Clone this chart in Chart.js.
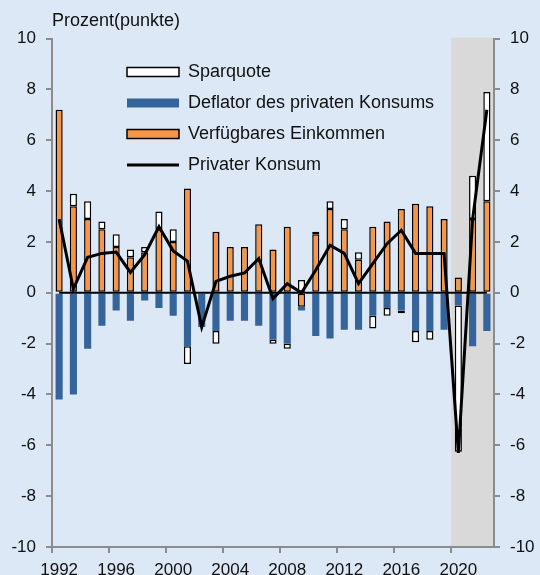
<!DOCTYPE html>
<html>
<head>
<meta charset="utf-8">
<script src="https://cdn.jsdelivr.net/npm/chart.js@4/dist/chart.umd.min.js"></script>
<style>
html,body{margin:0;padding:0;background:#dce8f6;}
#wrap{width:540px;height:575px;position:relative;}
</style>
</head>
<body>
<div id="wrap"><canvas id="c" width="540" height="575"></canvas></div>
<script>
const years = ['1992','1993','1994','1995','1996','1997','1998','1999','2000','2001','2002','2003','2004','2005','2006','2007','2008','2009','2010','2011','2012','2013','2014','2015','2016','2017','2018','2019','2020','2021','2022'];
const tickYears = ['1992','1996','2000','2004','2008','2012','2016','2020'];
const einkommen = [7.2,3.4,2.9,2.5,1.8,1.4,1.6,2.5,2.0,4.1,0,2.4,1.8,1.8,2.7,1.7,2.6,-0.55,2.3,3.3,2.5,1.3,2.6,2.8,3.3,3.5,3.4,2.9,0.6,2.9,3.6];
const deflator = [-4.2,-4.0,-2.2,-1.3,-0.7,-1.1,-0.3,-0.6,-0.9,-2.1,-1.35,-1.5,-1.1,-1.1,-1.3,-1.85,-2.0,-0.15,-1.7,-1.8,-1.45,-1.45,-0.9,-0.6,-0.7,-1.5,-1.5,-1.45,-0.5,-2.1,-1.5];
const sparquote = [0,0.5,0.7,0.3,0.5,0.3,0.2,0.7,0.5,-0.7,0,-0.5,0,0,0,-0.15,-0.2,0.5,0.1,0.3,0.4,0.3,-0.5,-0.3,-0.1,-0.45,-0.35,0,-5.75,1.7,4.3];
const konsum = [2.9,0.15,1.4,1.55,1.6,0.8,1.5,2.6,1.65,1.25,-1.35,0.45,0.65,0.78,1.35,-0.23,0.36,0.0,0.9,1.87,1.55,0.36,1.15,1.93,2.46,1.55,1.55,1.55,-6.3,2.9,7.2];
const zeroLine = years.map(() => 0);
const yTicksMin = -10, yTicksMax = 10, yStep = 2;
const shadeFrom = '2020';

const shadePlugin = {
  id: 'shade',
  beforeDraw(chart) {
    const {ctx, chartArea, scales} = chart;
    const x = scales.x;
    const i = years.indexOf(shadeFrom);
    const half = (x.getPixelForValue(1) - x.getPixelForValue(0)) / 2;
    const x0 = x.getPixelForValue(i) - half;
    ctx.save();
    ctx.fillStyle = '#d9d9d9';
    ctx.fillRect(x0, chartArea.top - 1, chartArea.right - x0, chartArea.bottom - chartArea.top + 1);
    ctx.restore();
  }
};
const legendShift = {
  id: 'legendShift',
  afterLayout(chart) {
    const lg = chart.legend, ca = chart.chartArea;
    if (lg) {
      lg.left = ca.left + 62;
      lg.top = ca.top + 11.5;
      lg.right = ca.right;
      lg.bottom = ca.bottom;
    }
  }
};

const FONT = "'Liberation Sans', Arial, sans-serif";
const AXIS = '#8c8c8c';
const baseGen = Chart.defaults.plugins.legend.labels.generateLabels;
const xTickColor = (ctx) => tickYears.includes(years[ctx.index]) ? AXIS : 'rgba(0,0,0,0)';

new Chart(document.getElementById('c'), {
  data: {
    labels: years,
    datasets: [
      {type:'line', label:'Privater Konsum', data: konsum, borderColor:'#000', backgroundColor:'#000', borderWidth:3, pointRadius:0, tension:0, stack:'konsum', pointStyle:'line'},
      {type:'line', label:'zero', data: zeroLine, borderColor:'#000', borderWidth:2, pointRadius:0, stack:'zero'},
      {type:'bar', label:'Verfügbares Einkommen', data: einkommen, backgroundColor:'#f79646', borderColor:'#000', borderWidth:1.5, borderSkipped:false},
      {type:'bar', label:'Deflator des privaten Konsums', data: deflator, backgroundColor:'#35649b', borderColor:'#35649b', borderWidth:0},
      {type:'bar', label:'Sparquote', data: sparquote, backgroundColor:'#ffffff', borderColor:'#000', borderWidth:1.5, borderSkipped:false}
    ]
  },
  options: {
    responsive: false,
    animation: false,
    layout: {padding: {top: 0, left: 0, right: 0, bottom: 0}},
    datasets: {bar: {barPercentage: 0.5, categoryPercentage: 1.0}},
    plugins: {
      tooltip: {enabled: false},
      title: {
        display: true, text: 'Prozent(punkte)', align: 'start', fullSize: false,
        color: '#111', font: {family: FONT, size: 18, weight: 'normal'},
        padding: {top: 10, bottom: 7}
      },
      legend: {
        position: 'chartArea', align: 'start', reverse: true,
        labels: {
          usePointStyle: true, pointStyleWidth: 52, boxHeight: 9, padding: 13,
          color: '#111', font: {family: FONT, size: 18},
          filter: (item) => item.text !== 'zero',
          generateLabels: (chart) => baseGen(chart).map(it => Object.assign(it, {pointStyle: it.datasetIndex === 0 ? 'line' : 'rect'}))
        }
      }
    },
    scales: {
      x: {
        type: 'category', offset: true, stacked: true,
        grid: {display: true, drawOnChartArea: false, offset: true, tickLength: 6, color: xTickColor, lineWidth: 2},
        border: {display: true, color: AXIS, width: 2},
        ticks: {
          autoSkip: false, maxRotation: 0, minRotation: 0, padding: 7,
          color: '#111', font: {family: FONT, size: 17},
          callback: function(v, i) { return tickYears.includes(years[i]) ? years[i] : ''; }
        },
        afterFit: (s) => { s.height = 28; }
      },
      y: {
        position: 'left', stacked: true, min: yTicksMin, max: yTicksMax,
        grid: {display: true, drawOnChartArea: false, tickLength: 6, color: AXIS, lineWidth: 2},
        border: {display: true, color: AXIS, width: 2},
        ticks: {stepSize: yStep, padding: 10, color: '#111', font: {family: FONT, size: 17}},
        afterFit: (s) => { s.width = 52; }
      },
      y2: {
        position: 'right', min: yTicksMin, max: yTicksMax,
        grid: {display: true, drawOnChartArea: false, tickLength: 6, color: AXIS, lineWidth: 2},
        border: {display: true, color: AXIS, width: 2},
        ticks: {stepSize: yStep, padding: 10, color: '#111', font: {family: FONT, size: 17}},
        afterFit: (s) => { s.width = 46; }
      }
    }
  },
  plugins: [shadePlugin, legendShift]
});
</script>
</body>
</html>
